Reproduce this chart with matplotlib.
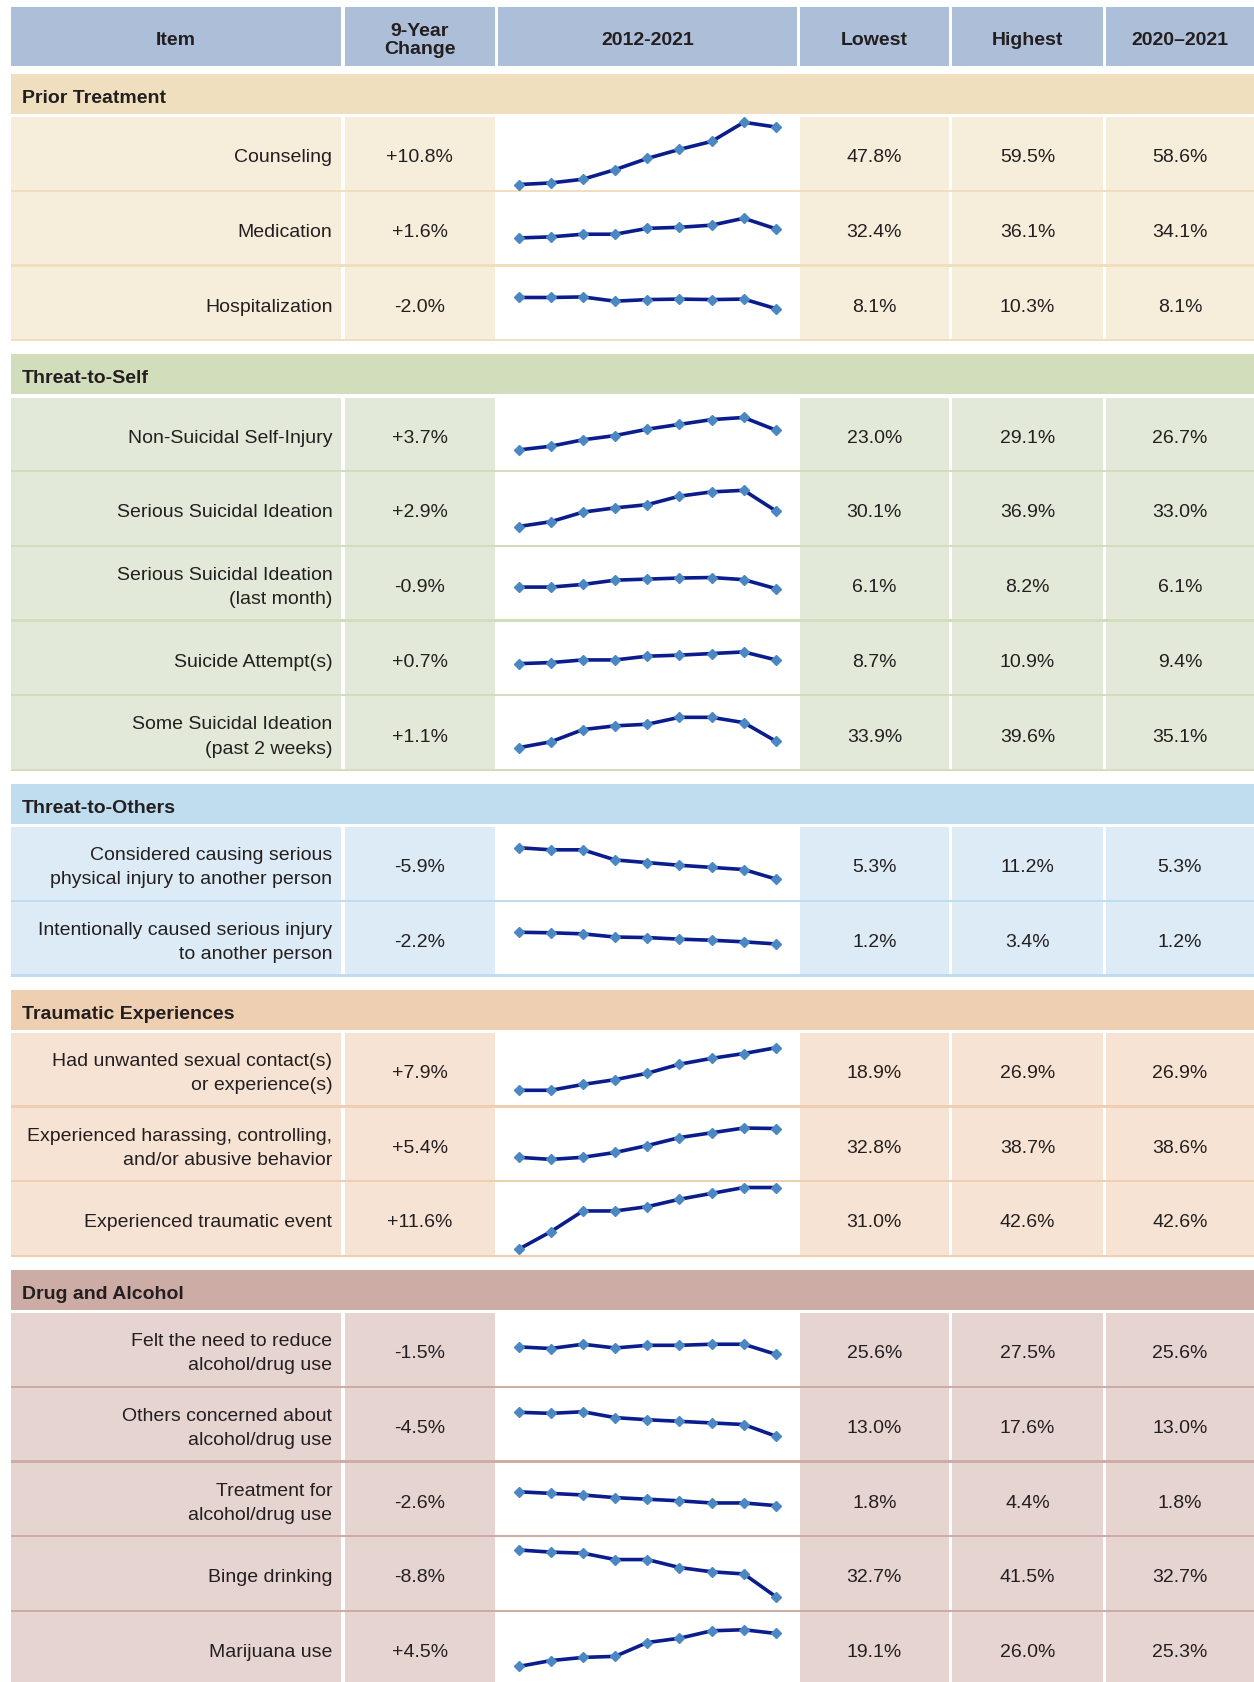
import matplotlib
matplotlib.use("Agg")
import matplotlib.pyplot as plt
from matplotlib.patches import Rectangle

plt.rcParams['font.family'] = ['Liberation Sans', 'DejaVu Sans']

# column headers
headers = ["Item", "9-Year\nChange", "2012-2021", "Lowest", "Highest", "2020\u20132021"]

# sections and how many items each one holds
sections = ["Prior Treatment", "Threat-to-Self", "Threat-to-Others",
            "Traumatic Experiences", "Drug and Alcohol"]
section_sizes = [3, 5, 2, 3, 5]

items = [
    "Counseling", "Medication", "Hospitalization",
    "Non-Suicidal Self-Injury", "Serious Suicidal Ideation",
    "Serious Suicidal Ideation\n(last month)", "Suicide Attempt(s)",
    "Some Suicidal Ideation\n(past 2 weeks)",
    "Considered causing serious\nphysical injury to another person",
    "Intentionally caused serious injury\nto another person",
    "Had unwanted sexual contact(s)\nor experience(s)",
    "Experienced harassing, controlling,\nand/or abusive behavior",
    "Experienced traumatic event",
    "Felt the need to reduce\nalcohol/drug use",
    "Others concerned about\nalcohol/drug use",
    "Treatment for\nalcohol/drug use",
    "Binge drinking", "Marijuana use",
]
change = [10.8, 1.6, -2.0, 3.7, 2.9, -0.9, 0.7, 1.1, -5.9, -2.2,
          7.9, 5.4, 11.6, -1.5, -4.5, -2.6, -8.8, 4.5]
lowest = [47.8, 32.4, 8.1, 23.0, 30.1, 6.1, 8.7, 33.9, 5.3, 1.2,
          18.9, 32.8, 31.0, 25.6, 13.0, 1.8, 32.7, 19.1]
highest = [59.5, 36.1, 10.3, 29.1, 36.9, 8.2, 10.9, 39.6, 11.2, 3.4,
           26.9, 38.7, 42.6, 27.5, 17.6, 4.4, 41.5, 26.0]
latest = [58.6, 34.1, 8.1, 26.7, 33.0, 6.1, 9.4, 35.1, 5.3, 1.2,
          26.9, 38.6, 42.6, 25.6, 13.0, 1.8, 32.7, 25.3]

# yearly values 2012-13 ... 2020-21
trends = [
    [47.8, 48.1, 48.8, 50.6, 52.7, 54.4, 55.9, 59.5, 58.6],
    [32.4, 32.6, 33.1, 33.1, 34.2, 34.4, 34.8, 36.1, 34.1],
    [10.2, 10.2, 10.3, 9.5, 9.8, 9.9, 9.8, 9.9, 8.1],
    [23.0, 23.7, 24.9, 25.7, 26.9, 27.8, 28.7, 29.1, 26.7],
    [30.1, 31.0, 32.8, 33.6, 34.2, 35.8, 36.6, 36.9, 33.0],
    [6.4, 6.4, 6.9, 7.7, 7.9, 8.1, 8.2, 7.8, 6.1],
    [8.7, 8.9, 9.4, 9.4, 10.1, 10.3, 10.6, 10.9, 9.4],
    [33.9, 35.0, 37.3, 38.0, 38.3, 39.6, 39.6, 38.6, 35.1],
    [11.2, 10.8, 10.8, 8.9, 8.4, 7.9, 7.5, 7.1, 5.3],
    [3.4, 3.3, 3.1, 2.5, 2.4, 2.1, 1.9, 1.6, 1.2],
    [18.9, 18.9, 20.0, 20.9, 22.1, 23.8, 24.9, 25.8, 26.9],
    [33.2, 32.8, 33.2, 34.1, 35.4, 36.9, 37.8, 38.7, 38.6],
    [31.0, 34.3, 38.2, 38.2, 39.0, 40.4, 41.5, 42.6, 42.6],
    [27.0, 26.7, 27.5, 26.8, 27.3, 27.3, 27.5, 27.5, 25.6],
    [17.5, 17.3, 17.6, 16.5, 16.1, 15.8, 15.5, 15.2, 13.0],
    [4.4, 4.1, 3.8, 3.3, 3.0, 2.7, 2.3, 2.3, 1.8],
    [41.5, 41.1, 40.9, 39.7, 39.7, 38.2, 37.4, 37.0, 32.7],
    [19.1, 20.2, 20.8, 21.0, 23.6, 24.4, 25.8, 26.0, 25.3],
]

band_colors = ["#efdfbf", "#d2ddbb", "#bfddee", "#efcfb1", "#ceaca6"]
row_colors = ["#f6eddb", "#e3e9d8", "#dcebf5", "#f7e3d3", "#e6d4d1"]
header_color = "#adbed8"
text_color = "#231f20"

W, H = 1254, 1683
fig = plt.figure(figsize=(W / 100, H / 100), dpi=100)
ax = fig.add_axes([0, 0, 1, 1])
ax.set_xlim(0, W)
ax.set_ylim(H, 0)
ax.axis('off')

cols = [(10.7, 341.4), (344.6, 495.0), (498.0, 796.6),
        (799.8, 949.0), (952.3, 1102.6), (1105.8, 1254.0)]
FS = 14
DY = 3.5  # text sits a little below the geometric centre

# header
for (x0, x1), lab in zip(cols, headers):
    ax.add_patch(Rectangle((x0, 7.5), x1 - x0, 59, color=header_color, lw=0))
    ax.text((x0 + x1) / 2, 37 + DY, lab, ha='center', va='center', fontsize=FS,
            fontweight='bold', color=text_color, linespacing=1.12)

pitch = 74.7
cell_h = 72.4
y = 75
k = 0
for s, name in enumerate(sections):
    ax.add_patch(Rectangle((cols[0][0], y), W - cols[0][0], 40,
                           color=band_colors[s], lw=0))
    ax.text(21.5, y + 20 + DY, name, ha='left', va='center', fontsize=FS,
            fontweight='bold', color=text_color)
    y += 43.2
    for r in range(section_sizes[s]):
        top = y
        # separator line below the row
        ax.add_patch(Rectangle((cols[0][0], top + cell_h), W - cols[0][0],
                               pitch - cell_h, color=band_colors[s], lw=0))
        for c, (x0, x1) in enumerate(cols):
            fc = 'white' if c == 2 else row_colors[s]
            ax.add_patch(Rectangle((x0, top), x1 - x0, cell_h, color=fc, lw=0))
        cy = top + cell_h / 2 + DY
        ax.text(cols[0][1] - 9, cy, items[k], ha='right', va='center',
                fontsize=FS, color=text_color, linespacing=1.55)
        vals = [f"{change[k]:+.1f}%", None, f"{lowest[k]:.1f}%",
                f"{highest[k]:.1f}%", f"{latest[k]:.1f}%"]
        for c, v in zip(range(1, 6), vals):
            if v is None:
                continue
            x0, x1 = cols[c]
            ax.text((x0 + x1) / 2, cy, v, ha='center', va='center',
                    fontsize=FS, color=text_color)
        # sparkline
        x0, x1 = cols[2]
        sa = fig.add_axes([x0 / W, 1 - (top + cell_h) / H,
                           (x1 - x0) / W, cell_h / H])
        sa.axis('off')
        d = trends[k]
        mid = (min(d) + max(d)) / 2
        sa.plot(range(len(d)), d, color='#0b1c8c', lw=2.6, marker='D',
                ms=5.5, mfc='#4b88c3', mec='#4b88c3', clip_on=False)
        sa.set_xlim(-0.64, 8.64)
        sa.set_ylim(mid - 6.8, mid + 6.8)
        y += pitch
        k += 1
    y += 13

fig.savefig("out.png", dpi=100)
